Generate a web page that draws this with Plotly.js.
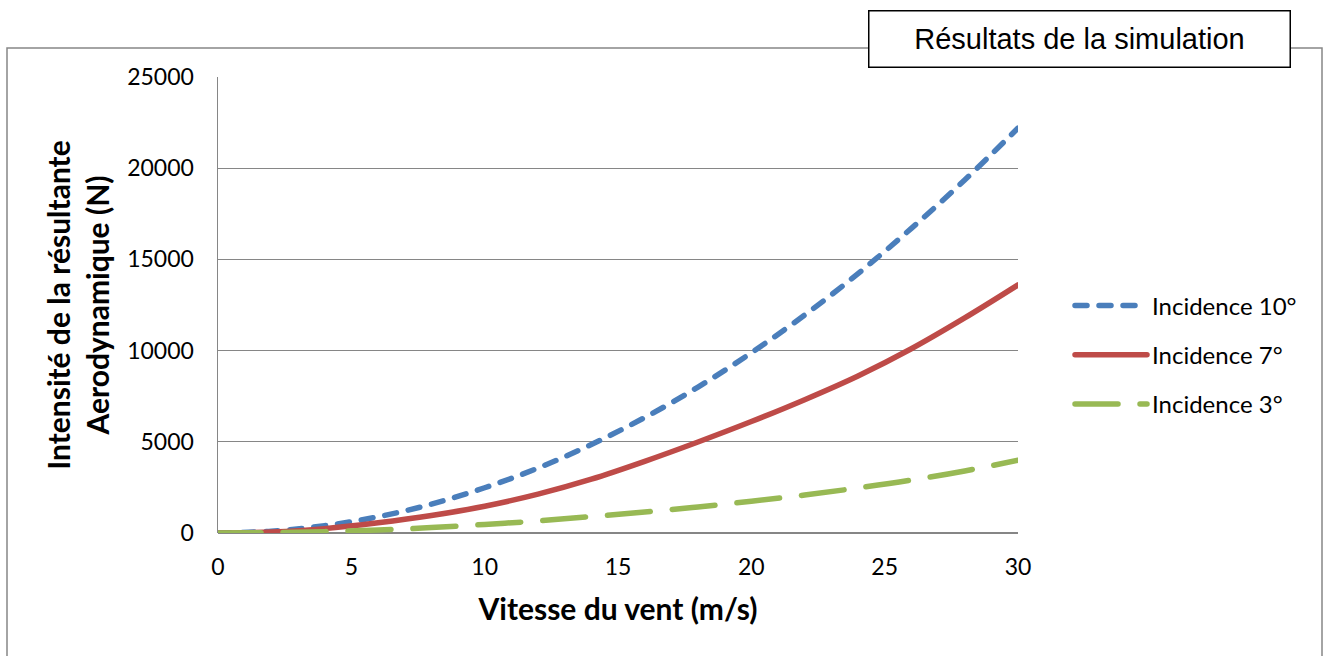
<!DOCTYPE html>
<html>
<head>
<meta charset="utf-8">
<script src="https://cdn.plot.ly/plotly-3.0.1.min.js"></script>
<style>
html, body { margin: 0; padding: 0; background: #fff; }
#chart { width: 1324px; height: 656px; }
.scatterlayer path.js-line, .legend path.js-line { stroke-linecap: round !important; }
</style>
</head>
<body>
<div id="chart"></div>
<script>
// Vitesse du vent (m/s)
const vitesse = [0, 2, 4, 6, 8, 10, 12, 14, 16, 18, 20, 22, 24, 26, 28, 30];
// Intensité de la résultante aérodynamique (N)
const incidence10 = [0, 100, 400, 890, 1580, 2480, 3560, 4850, 6330, 8000, 9880, 11950, 14220, 16700, 19350, 22200];
const incidence7  = [0, 60, 240, 560, 960, 1470, 2130, 2950, 3930, 4990, 6110, 7310, 8610, 10100, 11790, 13600];
const incidence3  = [0, 20, 75, 165, 295, 470, 660, 900, 1150, 1430, 1740, 2080, 2470, 2900, 3400, 3990];
const seriesNames = ['Incidence 10°', 'Incidence 7°', 'Incidence 3°'];
const xTicks = [0, 5, 10, 15, 20, 25, 30];
const yTicks = [0, 5000, 10000, 15000, 20000, 25000];

const traces = [
  { x: vitesse, y: incidence10, name: seriesNames[0], mode: 'lines', legendgroup: 'a',
    line: { color: '#4A7EBB', width: 5.5, dash: '12px,12px', shape: 'spline' } },
  { x: vitesse, y: incidence7, name: seriesNames[1], mode: 'lines', legendgroup: 'b',
    line: { color: '#BE4B48', width: 5.5, shape: 'spline' } },
  { x: vitesse, y: incidence3, name: seriesNames[2], mode: 'lines', legendgroup: 'c',
    line: { color: '#98B954', width: 5.5, dash: '43px,22px', shape: 'spline' } }
];

const L = 218, R = 1018, T = 77, B = 533;
const W = R - L, H = B - T;
const px = v => (v - L) / W;
const py = v => (B - v) / H;

const layout = {
  width: 1324, height: 656,
  margin: { l: L, r: 1324 - R, t: T, b: 656 - B },
  paper_bgcolor: '#ffffff', plot_bgcolor: '#ffffff',
  font: { family: 'Lato, "Open Sans", sans-serif', color: '#000000', size: 23 },
  showlegend: true,
  legend: {
    x: px(1070), y: py(355), xanchor: 'left', yanchor: 'middle',
    font: { family: 'Lato, sans-serif', size: 24, color: '#000' },
    itemwidth: 72, traceorder: 'grouped', tracegroupgap: 15, bgcolor: 'rgba(0,0,0,0)'
  },
  xaxis: {
    range: [0, 30], tickvals: xTicks, ticktext: xTicks.map(String),
    showgrid: false, zeroline: false, showline: false,
    ticks: 'outside', ticklen: 13, tickcolor: 'rgba(0,0,0,0)',
    tickfont: { family: 'Lato, sans-serif', size: 23, color: '#000' },
    title: { text: 'Vitesse du vent (m/s)', standoff: 20,
             font: { family: 'Lato, sans-serif', size: 30, color: '#000', weight: 'bold' } },
    automargin: false, fixedrange: true
  },
  yaxis: {
    range: [0, 25000], tickvals: yTicks, ticktext: yTicks.map(String),
    showgrid: true, gridcolor: '#868686', gridwidth: 1,
    zeroline: true, zerolinecolor: '#868686', zerolinewidth: 1.5,
    showline: true, linecolor: '#868686', linewidth: 1.5,
    ticks: 'outside', ticklen: 18, tickcolor: 'rgba(0,0,0,0)',
    tickfont: { family: 'Lato, sans-serif', size: 23, color: '#000' },
    title: { text: 'Intensité de la résultante<br>Aerodynamique (N)', standoff: 8,
             font: { family: 'Lato, sans-serif', size: 30, color: '#000', weight: 'bold' } },
    automargin: false, fixedrange: true
  },
  shapes: [
    { type: 'rect', xref: 'paper', yref: 'paper',
      x0: px(7), x1: px(1322), y0: py(665), y1: py(48),
      line: { color: '#878787', width: 1.5 }, fillcolor: 'rgba(0,0,0,0)', layer: 'below' }
  ],
  annotations: [
    { xref: 'paper', yref: 'paper', x: px(1079.5), y: py(39),
      xanchor: 'center', yanchor: 'middle', showarrow: false,
      text: 'Résultats de la simulation',
      font: { family: '"Liberation Sans", Arial, sans-serif', size: 29, color: '#000' },
      bgcolor: '#ffffff', bordercolor: '#000000', borderwidth: 1.5, borderpad: 0,
      width: 420, height: 55 }
  ]
};

Plotly.newPlot('chart', traces, layout, { displayModeBar: false, staticPlot: true });
</script>
</body>
</html>
